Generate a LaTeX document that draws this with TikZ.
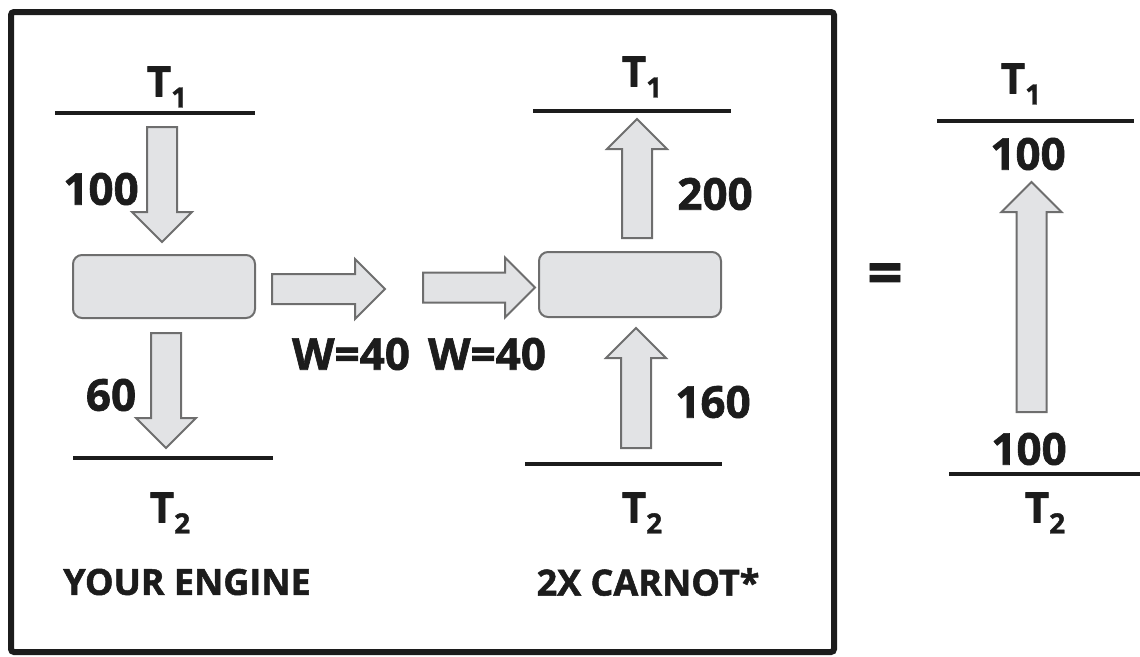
\documentclass[tikz,border=0pt]{standalone}
\usepackage{fontspec}
\setmainfont{Open Sans}[BoldFeatures={FakeBold=1.4}]
\usetikzlibrary{calc}

\definecolor{flowfill}{HTML}{E2E3E5}
\definecolor{flowline}{HTML}{6E6E6E}
\definecolor{ink}{HTML}{1C1C1C}

% fat block arrow from #2 to #3, named #1
\newcommand{\heatarrow}[3]{%
  \coordinate (#1-hb) at ($(#3)!30pt!(#2)$);
  \draw[flow] ($(#2)!15pt!90:(#3)$) -- ($(#1-hb)!15pt!90:(#3)$) -- ($(#1-hb)!30pt!90:(#3)$)
    -- (#3) -- ($(#1-hb)!30pt!-90:(#3)$) -- ($(#1-hb)!15pt!-90:(#3)$) -- ($(#2)!15pt!-90:(#3)$) -- cycle;
}
\newcommand{\temp}[1]{T\raisebox{-11pt}{\fontsize{28}{28}\selectfont #1}}

\begin{document}
\begin{tikzpicture}[
        x=1pt, y=-1pt,
        every node/.style={text=ink, font=\bfseries\fontsize{44}{44}\selectfont, inner sep=0pt},
        engine/.style={draw=flowline, line width=2pt, fill=flowfill, rounded corners=9pt, minimum width=182pt, minimum height=63pt},
        flow/.style={draw=flowline, line width=2pt, fill=flowfill, line join=miter},
        reservoir/.style={draw=ink, line width=4pt},
        tlabel/.style={font=\bfseries\fontsize{42}{42}\selectfont},
        caption/.style={font=\bfseries\fontsize{36}{36}\selectfont}
    ]
        \useasboundingbox (0,0) rectangle (1140,656);
        \draw[ink, line width=6pt, rounded corners=3pt] (11,12) rectangle (834,652);

        % your engine
        \node[tlabel] (hotA) at (167,87) {\temp{1}};
        \node[tlabel] (coldA) at (170,513) {\temp{2}};
        \coordinate (hotAw) at (55,113);  \coordinate (hotAe) at (255,113);
        \coordinate (coldAw) at (73,458); \coordinate (coldAe) at (273,458);
        \draw[reservoir] (hotAw) -- (hotAe);
        \draw[reservoir] (coldAw) -- (coldAe);
        \node[engine] (eng) at (164,286.5) {};
        \coordinate (qinA) at (162,127);  \coordinate (qinB) at (162,242);
        \coordinate (qoutA) at (166,333); \coordinate (qoutB) at (166,448);
        \heatarrow{qin}{qinA}{qinB}
        \heatarrow{qout}{qoutA}{qoutB}
        \node (q100) at (101,189) {100};
        \node (q60) at (111,395) {60};
        \node[caption] (yours) at (187,582) {YOUR ENGINE};

        % work transfer
        \coordinate (wA) at (272,289); \coordinate (wB) at (385,289);
        \coordinate (wC) at (423,287.5); \coordinate (wD) at (535,287.5);
        \heatarrow{wout}{wA}{wB}
        \heatarrow{win}{wC}{wD}
        \node (w1) at (351,354) {W=40};
        \node (w2) at (487,354) {W=40};

        % 2x carnot
        \node[tlabel] (hotB) at (642,77) {\temp{1}};
        \node[tlabel] (coldB) at (642,513) {\temp{2}};
        \coordinate (hotBw) at (533,111);  \coordinate (hotBe) at (731,111);
        \coordinate (coldBw) at (525,464); \coordinate (coldBe) at (722,464);
        \draw[reservoir] (hotBw) -- (hotBe);
        \draw[reservoir] (coldBw) -- (coldBe);
        \node[engine, minimum height=65pt] (carnot) at (630,284.5) {};
        \coordinate (qhA) at (637,238); \coordinate (qhB) at (637,119);
        \coordinate (qcA) at (636,448); \coordinate (qcB) at (636,328);
        \heatarrow{qh}{qhA}{qhB}
        \heatarrow{qc}{qcA}{qcB}
        \node (q200) at (715,194) {200};
        \node (q160) at (713,402) {160};
        \node[caption] (twox) at (648,582) {2X CARNOT*};

        % net result
        \node[font=\bfseries\fontsize{62}{62}\selectfont] (eq) at (885,279) {=};
        \node[tlabel] (hotC) at (1021,84) {\temp{1}};
        \node[tlabel] (coldC) at (1045,513) {\temp{2}};
        \coordinate (hotCw) at (937,121);  \coordinate (hotCe) at (1134,121);
        \coordinate (coldCw) at (949,474); \coordinate (coldCe) at (1140,474);
        \draw[reservoir] (hotCw) -- (hotCe);
        \draw[reservoir] (coldCw) -- (coldCe);
        \coordinate (netA) at (1031.5,412); \coordinate (netB) at (1031.5,182);
        \heatarrow{net}{netA}{netB}
        \node (n100a) at (1028,154) {100};
        \node (n100b) at (1029,449) {100};
    \end{tikzpicture}
\end{document}
